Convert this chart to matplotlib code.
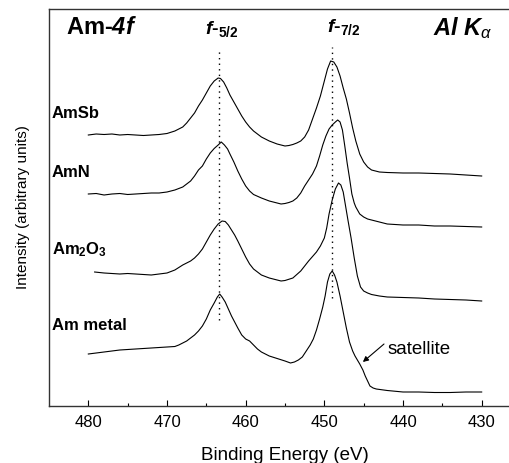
import matplotlib
matplotlib.use("Agg")
import matplotlib.pyplot as plt

plt.rcParams['font.family'] = ['Liberation Sans', 'DejaVu Sans']
plt.rcParams['mathtext.fontset'] = 'custom'
plt.rcParams['mathtext.rm'] = 'Liberation Sans'
plt.rcParams['mathtext.it'] = 'Liberation Sans:italic'
plt.rcParams['mathtext.bf'] = 'Liberation Sans:bold'
plt.rcParams['mathtext.bfit'] = 'Liberation Sans:italic:bold'

# ---------------- data (binding energy in eV, intensity in arbitrary units) ----------------
amsb_E = [480, 479, 478, 477, 476, 475, 474, 473, 472, 471, 470, 469, 468, 467.5, 467, 466.5, 466,
          465.5, 465, 464.5, 464, 463.5, 463.2, 462.8, 462.4, 462, 461.5, 461, 460.5, 460, 459.5,
          459, 458.5, 458, 457, 456, 455, 454.5, 454, 453.5, 453, 452.5, 452, 451.5, 451, 450.5,
          450, 449.6, 449.2, 448.8, 448.4, 448, 447.6, 447.2, 446.8, 446.4, 446, 445.5, 445,
          444.5, 444, 443, 442, 440, 438, 436, 434, 432, 430]
amsb_I = [271, 272, 271.5, 272, 271, 271.5, 271, 270.5, 271, 271.5, 272.5, 275, 279, 283, 288, 293, 300,
          306, 313, 320, 325, 328, 327.5, 324, 318, 311, 304, 297, 290, 284, 279,
          275, 272, 269, 265, 262, 260, 260.5, 261.5, 263, 265, 269, 276, 287, 298, 310,
          325, 337, 345, 344, 339, 330, 318, 307, 293, 278, 265, 252, 244,
          239, 236, 234, 233.5, 233, 233, 232.5, 232, 231, 230]

amn_E = [480, 479, 478, 477, 476, 475, 474, 473, 472, 471, 470, 469, 468, 467.5, 467, 466.5, 466,
         465.5, 465, 464.5, 464, 463.5, 463.1, 462.7, 462.3, 462, 461.5, 461, 460.5, 460, 459.5,
         459, 458, 457, 456, 455.5, 455, 454.5, 454, 453.5, 453, 452.5, 452, 451.5, 451, 450.6,
         450.2, 449.8, 449.4, 449, 448.6, 448.3, 448, 447.7, 447.4, 447.1, 446.8, 446.5, 446.2,
         446, 445.5, 445, 444.5, 444, 443, 442, 440, 438, 436, 434, 432, 430]
amn_I = [212, 212.5, 211, 212, 212.5, 211.5, 212, 212.5, 213, 213, 214, 216, 219, 222, 225, 230, 236,
         240, 247, 253, 257.5, 261, 264, 261, 257, 252, 244, 235, 227, 220, 215,
         211.5, 208, 205, 203, 202, 202.5, 203.5, 205, 208, 213, 220, 226, 232, 240, 250,
         261, 270, 277, 281, 284, 286, 284, 276, 260, 243, 228, 212, 203,
         199, 192, 189, 187, 186, 184, 182, 181, 181, 180, 180, 179.5, 179]

am2o3_E = [479.2, 478, 477, 476, 475, 474, 473, 472, 471, 470, 469, 468, 467, 466.5, 466, 465.5,
           465, 464.5, 464, 463.5, 463, 462.6, 462.2, 461.8, 461.4, 461, 460.5, 460, 459.5, 459,
           458.5, 458, 457, 456, 455.5, 455, 454, 453, 452, 451, 450.5, 450, 449.7, 449.4, 449,
           448.6, 448.2, 447.9, 447.6, 447.3, 447, 446.6, 446.2, 445.8, 445.4, 445, 444.5, 444,
           443, 442, 440, 438, 436, 434, 432, 430]
am2o3_I = [134, 133, 132.5, 132, 132.5, 132, 131.5, 131, 132, 133, 136, 141, 145, 148, 152, 157,
           164, 171, 177, 182, 185, 184.5, 181, 176, 171, 165, 157, 149, 142, 137,
           134, 131, 128, 126, 125, 125.5, 128, 135, 145, 154, 160, 168, 178, 192, 206,
           217, 223, 221, 214, 200, 186, 168, 148, 130, 119, 115, 113, 111.5,
           110, 109, 108.5, 108, 107, 106.5, 106, 105]

ammetal_E = [480, 479, 478, 477, 476, 475, 474, 473, 472, 471, 470, 469, 468.5, 468, 467.5, 467,
             466.5, 466, 465.5, 465, 464.5, 464, 463.6, 463.3, 463, 462.6, 462.2, 461.8, 461.4,
             461, 460.5, 460, 459.5, 459, 458.5, 458, 457.5, 457, 456, 455, 454.3, 453.8, 453.3,
             452.8, 452.3, 451.8, 451.4, 451, 450.6, 450.2, 449.9, 449.6, 449.3, 449, 448.7,
             448.4, 448, 447.6, 447.2, 446.8, 446.4, 446.1, 445.8, 445.5, 445.1, 444.8, 444.5,
             444.2, 443.8, 443.4, 442, 440, 438, 436, 434, 432, 430]
ammetal_I = [52, 53, 54, 55, 56, 56.5, 57, 57.5, 58, 58.5, 59, 59.5, 61, 63, 65, 68,
             71, 75, 80, 87, 96, 103, 109, 112, 109, 104, 97, 90, 84,
             78, 71, 67, 65, 61, 57, 54, 52, 50, 47.5, 45, 43, 44, 46,
             49, 55, 61, 67, 76, 87, 99, 110, 124, 132, 135, 131,
             124, 110, 94, 78, 64, 55, 50, 46, 42, 36, 30, 25,
             20, 18, 17, 15.5, 14, 14, 13.5, 13.5, 14, 14]

spectra = [(amsb_E, amsb_I), (amn_E, amn_I), (am2o3_E, am2o3_I), (ammetal_E, ammetal_I)]
sample_labels = ['AmSb', 'AmN', r'Am$_\mathbf{2}$O$_\mathbf{3}$', 'Am metal']
peak_positions = [463.4, 449.0]
peak_labels = [r'$\mathbfit{f}$-$_{\mathbf{5/2}}$', r'$\mathbfit{f}$-$_{\mathbf{7/2}}$']
satellite_point = (445.1, 44)

major_ticks = [480, 470, 460, 450, 440, 430]
minor_ticks = [475, 465, 455, 445, 435, 425]

# ---------------- figure ----------------
W, H = 510, 464
fig = plt.figure(figsize=(W / 100, H / 100), dpi=100)
ax_left, ax_right, ax_top, ax_bottom = 49, 521, 10, 407
ax = fig.add_axes([ax_left / W, 1 - ax_bottom / H, (ax_right - ax_left) / W, (ax_bottom - ax_top) / H])

for E, I in spectra:
    ax.plot(E, I, color='black', lw=0.8)

ax.set_xlim(485, 425)
ax.set_ylim(0, ax_bottom - ax_top)

# dotted peak markers
ax.vlines(peak_positions[0], 86, 355, colors='black', linestyles=(0, (1, 3)), lw=1.0)
ax.vlines(peak_positions[1], 108, 359, colors='black', linestyles=(0, (1, 3)), lw=1.0)

ax.set_xticks(major_ticks)
ax.set_xticks(minor_ticks, minor=True)
ax.set_yticks([])
ax.tick_params(axis='x', which='major', direction='in', length=4.3, width=0.8, labelsize=12, pad=6)
ax.tick_params(axis='x', which='minor', direction='in', length=2.2, width=0.8)
for s in ['left', 'bottom', 'top']:
    ax.spines[s].set_color('#333333')
    ax.spines[s].set_linewidth(1.0)
ax.spines['right'].set_visible(False)

ax.set_xlabel('Binding Energy (eV)', fontsize=13.5)
ax.xaxis.set_label_coords(0.5, (ax_bottom - 455) / (ax_bottom - ax_top))
ax.xaxis.label.set_va('center')
ax.set_ylabel('Intensity (arbitrary units)', fontsize=11)
ax.yaxis.set_label_coords((23 - ax_left) / (ax_right - ax_left), (ax_bottom - 207.5) / (ax_bottom - ax_top))
ax.yaxis.label.set_va('center')


def fpos(x, y):
    return x / W, 1 - y / H


fig.text(*fpos(66, 27), r'Am-$\mathbfit{4f}$', fontsize=17, fontweight='bold', va='center', ha='left')
fig.text(*fpos(205, 29), peak_labels[0], fontsize=14, fontweight='bold', va='center', ha='left')
fig.text(*fpos(327, 27), peak_labels[1], fontsize=14, fontweight='bold', va='center', ha='left')
fig.text(*fpos(433, 28), r'$\mathbfit{Al\ K}$$_{\alpha}$', fontsize=17, va='center', ha='left')

label_y = [113, 173, 250, 325]
for lab, y in zip(sample_labels, label_y):
    fig.text(*fpos(52, y), lab, fontsize=12, fontweight='bold', va='center', ha='left')

fig.text(*fpos(388, 349), 'satellite', fontsize=13.5, va='center', ha='left')
ax.annotate('', xy=satellite_point, xycoords='data',
            xytext=fpos(384, 345), textcoords='figure fraction',
            arrowprops=dict(arrowstyle='-|>', color='black', lw=0.8, mutation_scale=8,
                            shrinkA=0, shrinkB=0))

fig.savefig('out.png', dpi=100)
